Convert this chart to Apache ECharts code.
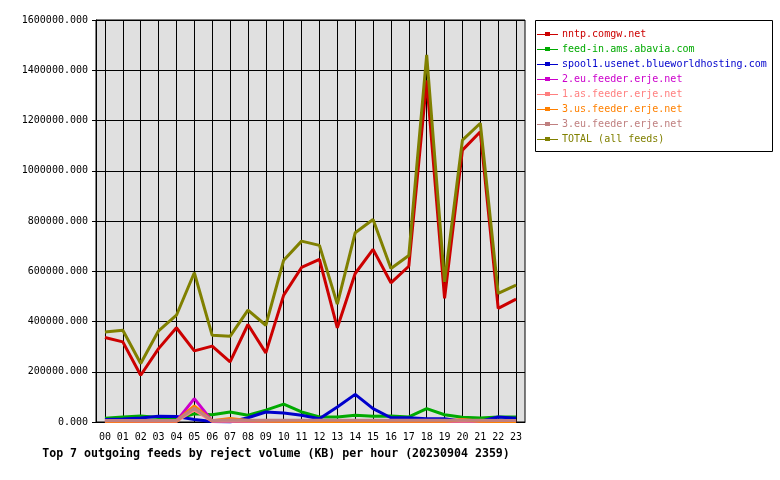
<!DOCTYPE html>
<html><head><meta charset="utf-8">
<script src="https://cdn.jsdelivr.net/npm/echarts@6/dist/echarts.min.js"></script>
<style>html,body{margin:0;padding:0;background:#fff}#c{width:780px;height:480px}</style>
</head><body><div id="c"></div>
<script>
const hours = ['00','01','02','03','04','05','06','07','08','09','10','11','12','13','14','15','16','17','18','19','20','21','22','23'];
const seriesNames = ['nntp.comgw.net','feed-in.ams.abavia.com','spool1.usenet.blueworldhosting.com','2.eu.feeder.erje.net','1.as.feeder.erje.net','3.us.feeder.erje.net','3.eu.feeder.erje.net','TOTAL (all feeds)'];
const seriesColors = ['#cc0000','#00aa00','#0000cc','#cc00cc','#ff8080','#ff8000','#c08080','#808000'];
const nntp = [336000,319000,186000,292000,375000,283000,302000,239000,388000,275000,505000,615000,647000,375000,591000,687000,554000,620000,1360000,492000,1082000,1155000,452000,489000];
const feedIn = [15000,20000,24000,18000,13000,33000,29000,40000,27000,47000,71000,40000,20000,20000,27000,23000,24000,20000,53000,29000,19000,16000,20000,20000];
const spool1 = [10000,12000,16000,23000,22000,10000,2000,0,17000,40000,36000,27000,13000,60000,110000,53000,17000,17000,13000,13000,3000,3000,20000,15000];
const eu2 = [3000,3000,3000,3000,3000,93000,4000,4000,3000,3000,5000,4000,3000,3000,3000,3000,3000,3000,3000,3000,3000,3000,5000,5000];
const as1 = [3000,3000,3000,3000,3000,48000,3000,3000,3000,3000,3000,3000,3000,3000,3000,3000,3000,3000,3000,3000,3000,3000,3000,3000];
const us3 = [3000,3000,4000,4000,4000,64000,5000,14000,6000,4000,3000,2000,3000,2000,2000,2000,3000,3000,3000,3000,10000,3000,2000,2000];
const eu3 = [6000,6000,6000,6000,6000,55000,6000,8000,7000,7000,7000,7000,7000,7000,7000,7000,7000,7000,7000,7000,7000,7000,6000,6000];
const total = [358000,365000,233000,363000,425000,594000,345000,341000,445000,385000,644000,720000,703000,469000,753000,806000,611000,663000,1461000,558000,1122000,1189000,512000,545000];
const yTicks = {min:0, max:1600000, interval:200000};

const allData = [nntp, feedIn, spool1, eu2, as1, us3, eu3, total];
const FONT = '"DejaVu Sans Mono", monospace';
const legendIcon = 'path://M0,2L8,2L8,0L13,0L13,2L21,2L21,3L13,3L13,4L8,4L8,3L0,3Z';
const chart = echarts.init(document.getElementById('c'), null, {renderer:'canvas'});
chart.setOption({
  animation:false,
  backgroundColor:'#ffffff',
  title:{text:'Top 7 outgoing feeds by reject volume (KB) per hour (20230904 2359)', left:271, textAlign:'center', top:443,
    textStyle:{fontFamily:FONT, fontSize:11.6, fontWeight:'bold', color:'#000'}},
  grid:{left:96, right:255, top:20, bottom:58, show:true, backgroundColor:'#e0e0e0', borderColor:'#000', borderWidth:1},
  legend:{orient:'vertical', left:532, top:28, padding:[0,0,0,5], itemGap:3, itemWidth:21, itemHeight:4, icon:legendIcon,
    data: seriesNames.map((n,i)=>({name:n, textStyle:{color:seriesColors[i]}})),
    textStyle:{fontFamily:FONT, fontSize:10, lineHeight:12, padding:[0,0,0,-1]}},
  graphic:[{type:'rect', shape:{x:535.5, y:20.5, width:237, height:131}, style:{fill:'none', stroke:'#000', lineWidth:1}, z:-1}],
  xAxis:{type:'category', data:hours, boundaryGap:true,
    axisLine:{lineStyle:{color:'#000', width:1}},
    axisTick:{alignWithLabel:true, length:4, lineStyle:{color:'#000'}},
    axisLabel:{fontFamily:FONT, fontSize:10, color:'#000', margin:10, interval:0},
    splitLine:{show:true, alignWithLabel:true, lineStyle:{color:'#000', width:1}}},
  yAxis:{type:'value', min:yTicks.min, max:yTicks.max, interval:yTicks.interval,
    axisLine:{show:true, lineStyle:{color:'#000'}},
    axisTick:{show:true, length:4, lineStyle:{color:'#000'}},
    axisLabel:{fontFamily:FONT, fontSize:10, color:'#000', margin:8, formatter:v=>v.toFixed(3)},
    splitLine:{show:true, lineStyle:{color:'#000', width:1}}},
  series: seriesNames.map((n,i)=>({name:n, type:'line', data:allData[i], color:seriesColors[i],
    showSymbol:false, symbol:'none', lineStyle:{width:3, color:seriesColors[i]},
    z: 2+i}))
});
</script></body></html>
